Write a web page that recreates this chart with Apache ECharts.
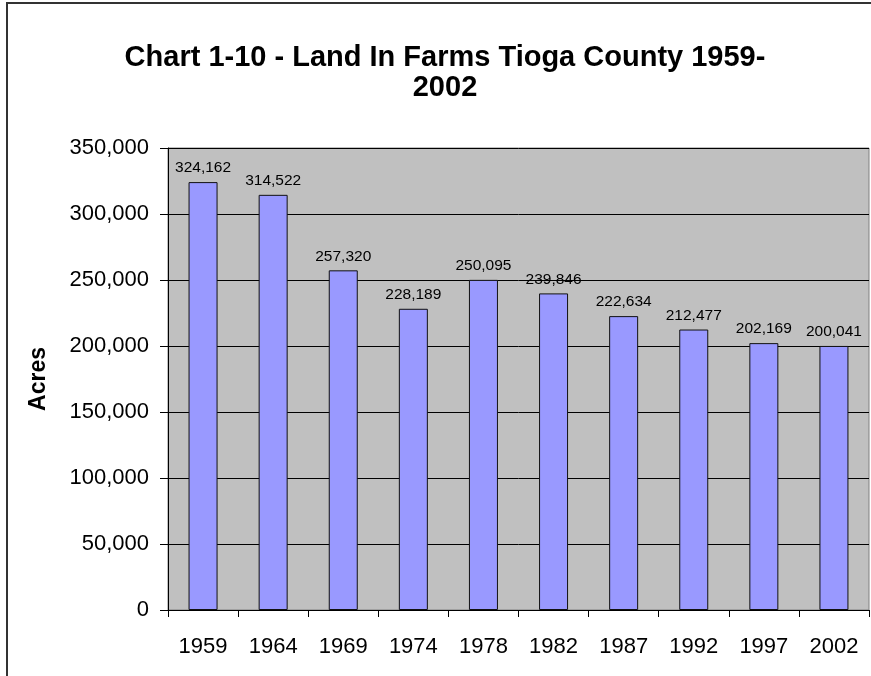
<!DOCTYPE html>
<html>
<head>
<meta charset="utf-8">
<script src="https://cdn.jsdelivr.net/npm/echarts@6/dist/echarts.min.js"></script>
<style>
  html, body { margin: 0; padding: 0; background: #ffffff; }
  #chart { width: 871px; height: 676px; }
</style>
</head>
<body>
<div id="chart"></div>
<script>
// Data
const years = ['1959', '1964', '1969', '1974', '1978', '1982', '1987', '1992', '1997', '2002'];
const acres = [324162, 314522, 257320, 228189, 250095, 239846, 222634, 212477, 202169, 200041];
const yTicks = [0, 50000, 100000, 150000, 200000, 250000, 300000, 350000];

const fmt = v => v.toString().replace(/\B(?=(\d{3})+(?!\d))/g, ',');
const font = '"Liberation Sans", Arial, sans-serif';

const chart = echarts.init(document.getElementById('chart'));

chart.setOption({
  animation: false,
  textStyle: { fontFamily: font },
  title: {
    text: 'Chart 1-10 - Land In Farms Tioga County 1959-\n2002',
    left: 440,
    top: 38,
    textAlign: 'center',
    textStyle: {
      fontFamily: font,
      fontSize: 29,
      fontWeight: 'bold',
      color: '#000',
      lineHeight: 30
    }
  },
  // outer chart frame (left and top edges are visible in the reference)
  graphic: [{
    type: 'polyline',
    shape: { points: [[7, 676], [7, 3], [871, 3]] },
    style: { stroke: '#333', lineWidth: 2, fill: null },
    silent: true
  }],
  grid: {
    left: 168,
    right: 2,
    top: 148,
    bottom: 66,
    show: true,
    backgroundColor: '#c0c0c0',
    borderColor: '#808080',
    borderWidth: 1
  },
  xAxis: {
    type: 'category',
    data: years,
    axisLine: { lineStyle: { color: '#000', width: 1 } },
    axisTick: { show: true, length: 7, lineStyle: { color: '#000' } },
    axisLabel: {
      color: '#000',
      fontSize: 22,
      margin: 26
    }
  },
  yAxis: {
    type: 'value',
    name: 'Acres',
    nameLocation: 'middle',
    nameGap: 118,
    nameRotate: 90,
    nameTextStyle: { color: '#000', fontSize: 23, fontWeight: 'bold' },
    min: yTicks[0],
    max: yTicks[yTicks.length - 1],
    interval: 50000,
    axisLine: { show: true, lineStyle: { color: '#000', width: 1 } },
    axisTick: { show: true, length: 8, lineStyle: { color: '#000' } },
    axisLabel: {
      color: '#000',
      fontSize: 22,
      margin: 19,
      formatter: v => fmt(v)
    },
    splitLine: { show: true, lineStyle: { color: '#000', width: 1 } }
  },
  series: [{
    type: 'bar',
    data: acres,
    barWidth: 29,
    itemStyle: {
      color: '#9999ff',
      borderColor: '#111',
      borderWidth: 1
    },
    label: {
      show: true,
      position: 'top',
      distance: 6,
      color: '#000',
      fontSize: 15.5,
      formatter: p => fmt(p.value)
    }
  }]
});
</script>
</body>
</html>
